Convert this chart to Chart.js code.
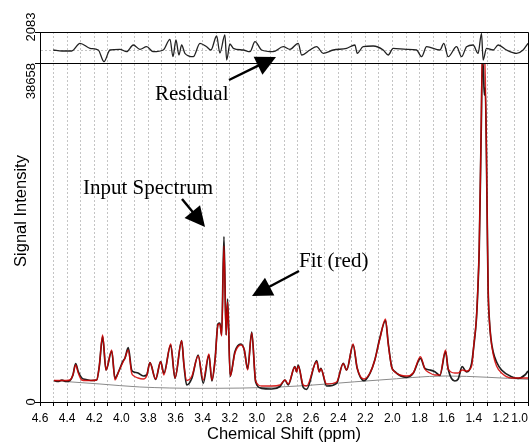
<!DOCTYPE html>
<html><head><meta charset="utf-8">
<script src="https://cdn.jsdelivr.net/npm/chart.js@4"></script>
<style>html,body{margin:0;padding:0;background:#fff}canvas{display:block}</style>
</head><body>
<canvas id="c" width="532" height="443"></canvas>
<script>
// ---- data ----
const ppm = [
4.497,4.467,4.438,4.408,4.379,4.357,4.337,4.318,4.292,4.261,
4.224,4.182,4.163,4.138,4.113,4.071,4.047,4.021,3.990,3.973,
3.949,3.924,3.907,3.877,3.838,3.813,3.789,3.747,3.710,3.686,
3.636,3.604,3.555,3.538,3.518,3.479,3.433,3.396,3.354,3.332,
3.309,3.287,3.273,3.260,3.243,3.227,3.216,3.197,3.162,3.118,
3.093,3.068,3.038,3.009,2.965,2.891,2.830,2.793,2.769,2.720,
2.707,2.695,2.658,2.633,2.559,2.540,2.528,2.486,2.412,2.363,
2.338,2.290,2.260,2.211,2.166,2.130,2.093,2.051,2.031,2.006,
1.982,1.896,1.847,1.793,1.761,1.724,1.687,1.650,1.608,1.589,
1.540,1.515,1.486,1.453,1.416,1.399,1.381,1.370,1.360,1.351,
1.344,1.337,1.329,1.322,1.315,1.307,1.300,1.294,1.285,1.274,
1.257,1.232,1.195,1.121,1.073,1.023,1.000];
const spectrum = [
2452,2338,2509,2338,2452,3079,4391,3478,2737,2566,
2452,2509,4026,7447,3649,5816,2703,3421,4596,5018,
6192,3649,3421,3307,2965,3079,4482,2589,4596,3273,
6500,2703,6991,4219,1939,2737,5360,2133,5360,2395,
4790,8895,9009,7641,18874,7641,11746,2908,5736,6614,
5930,3763,7983,2281,1562,1483,1768,2509,1939,4026,
3455,4219,1676,1448,4710,3455,3843,1825,2133,4413,
3649,6500,3843,2429,3273,4790,7299,9294,6694,4026,
3455,2817,3273,4983,3843,3649,3455,3022,5736,3763,
2395,2623,4026,3421,4413,6500,9351,12772,17334,25317,
32159,39002,37861,35010,35809,28738,19615,12772,9351,7299,
5702,4562,3649,2885,2703,3079,3535];
const fit = [
2452,2452,2452,2452,2509,3079,4219,3307,2509,2452,
2452,2509,4026,7641,3649,5930,2509,3421,4482,5018,
5930,3307,2965,2737,2623,2965,4482,2623,4596,3079,
6614,2737,6991,4219,2452,2965,5245,2509,5474,2509,
4676,8781,8895,7527,17790,7641,11404,2965,5588,6500,
5930,3649,7869,2395,1825,1825,1939,2509,2053,3991,
3421,4105,1939,1825,4596,3421,3763,2053,2281,4376,
3649,6614,3843,2623,3307,4790,7185,9465,6614,3991,
3421,2965,3307,5166,3763,3307,3079,3079,5930,3763,
3307,3307,3649,3535,4105,6614,9465,13000,17562,25659,
33000,40000,41000,40000,37000,29000,19957,12886,9351,7185,
5474,4105,3307,2737,2737,2737,2737];
const baselinePpm = [4.497,4.158,3.863,3.420,2.830,2.093,1.606,1.000];
const baseline    = [2429,2053,1711,1562,1711,2509,2965,2589];
const residualPpm = [
4.502,4.438,4.366,4.305,4.231,4.170,4.128,4.084,4.010,3.961,
3.912,3.863,3.813,3.764,3.691,3.641,3.619,3.597,3.575,3.555,
3.531,3.469,3.420,3.371,3.339,3.297,3.273,3.236,3.223,3.199,
3.174,3.101,3.051,3.014,2.965,2.880,2.806,2.756,2.695,2.670,
2.609,2.559,2.511,2.437,2.338,2.277,2.260,2.216,2.142,2.068,
2.031,1.995,1.896,1.822,1.785,1.748,1.650,1.621,1.589,1.527,
1.490,1.453,1.405,1.368,1.343,1.331,1.306,1.257,1.220,1.158,
1.085,1.036,1.000];
const residual = [
0,-116,-116,775,197,0,-1354,0,81,-197,
579,81,382,-197,0,1238,-775,1157,-579,579,
-382,-775,775,382,0,1620,-347,1736,-1157,694,
197,0,-197,960,0,-197,382,81,775,-579,
0,382,-382,0,197,579,-382,382,463,0,
-579,197,81,0,-775,382,0,775,-775,382,
-775,382,579,-382,1932,-1157,197,0,579,0,
-382,0,775];
const xTickLabels = [4.6,4.4,4.2,4.0,3.8,3.6,3.4,3.2,3.0,2.8,2.6,2.4,2.2,2.0,1.8,1.6,1.4,1.2,1.0];
const mainTicks = [0, 38658];
const residualTicks = [0, 2083];
const xRange = [1.0, 4.6];
const residualRange = [-1504, 2083];

const pts = (xs, ys) => xs.map((v, i) => ({x: v, y: ys[i]}));

const panelClip = {
  id: 'panelClip',
  beforeDatasetDraw(chart, args) {
    const s = chart.scales[args.meta.yAxisID], a = chart.chartArea, ctx = chart.ctx;
    ctx.save(); ctx.beginPath();
    ctx.rect(a.left, s.top, a.right - a.left, s.bottom - s.top); ctx.clip();
  },
  afterDatasetDraw(chart) { chart.ctx.restore(); }
};

function arrow(ctx, x0, y0, x1, y1) {
  const dx = x1 - x0, dy = y1 - y0, L = Math.hypot(dx, dy), ux = dx / L, uy = dy / L;
  const hl = 20, hw = 10;
  const bx = x1 - ux * hl, by = y1 - uy * hl;
  ctx.beginPath(); ctx.moveTo(x0, y0); ctx.lineTo(bx + ux * 2, by + uy * 2); ctx.stroke();
  ctx.beginPath(); ctx.moveTo(x1, y1);
  ctx.lineTo(bx - uy * hw, by + ux * hw); ctx.lineTo(bx + uy * hw, by - ux * hw);
  ctx.closePath(); ctx.fill();
}

const decor = {
  id: 'decor',
  afterDraw(chart) {
    const ctx = chart.ctx, a = chart.chartArea, xs = chart.scales.x, ys = chart.scales.y, y2 = chart.scales.y2;
    const r = v => Math.round(v) + 0.5;
    ctx.save();
    ctx.strokeStyle = '#000'; ctx.lineWidth = 1;
    ctx.beginPath();
    ctx.rect(r(a.left), r(a.top), Math.round(a.right) - Math.round(a.left), Math.round(a.bottom) - Math.round(a.top));
    ctx.moveTo(r(a.left), r(ys.top)); ctx.lineTo(r(a.right), r(ys.top));
    ctx.stroke();
    // x tick labels
    ctx.fillStyle = '#000';
    ctx.font = '12px "Liberation Sans", Arial, sans-serif';
    ctx.textBaseline = 'alphabetic';
    xTickLabels.forEach(v => {
      const px = xs.getPixelForValue(v);
      const t = v.toFixed(1);
      const w = ctx.measureText(t).width;
      let cx = px;
      if (cx + w / 2 > chart.width - 4) cx = chart.width - 4 - w / 2;
      ctx.textAlign = 'center';
      ctx.fillText(t, cx, 422);
    });
    // y tick labels (rotated)
    const rot = (t, x, y, align) => {
      ctx.save(); ctx.translate(x, y); ctx.rotate(-Math.PI / 2);
      ctx.textAlign = align; ctx.fillText(t, 0, 0); ctx.restore();
    };
    ctx.font = '13px "Liberation Sans", Arial, sans-serif';
    rot(String(mainTicks[0]), 35, ys.getPixelForValue(mainTicks[0]), 'center');
    rot(String(mainTicks[1]), 35, ys.getPixelForValue(mainTicks[1]), 'right');
    rot(String(residualTicks[1]), 35, y2.getPixelForValue(residualTicks[1]) - 5, 'center');
    // axis titles
    ctx.font = '16.5px "Liberation Sans", Arial, sans-serif';
    rot('Signal Intensity', 26, 211, 'center');
    ctx.textAlign = 'center';
    ctx.fillText('Chemical Shift (ppm)', 284, 439);
    // annotations
    ctx.font = '21px "Liberation Serif", "Times New Roman", serif';
    ctx.textAlign = 'left';
    ctx.fillText('Residual', 155, 100);
    ctx.fillText('Input Spectrum', 83, 194);
    ctx.fillText('Fit (red)', 299, 267);
    ctx.lineWidth = 2.4; ctx.fillStyle = '#000'; ctx.strokeStyle = '#000';
    arrow(ctx, 229, 80, 276, 57);
    arrow(ctx, 182, 199, 205, 227);
    arrow(ctx, 299, 271, 252, 296);
    ctx.restore();
  }
};

// Chart.js paints the first dataset last (on top): fit, spectrum, baseline, residual
new Chart(document.getElementById('c'), {
  type: 'line',
  data: {
    datasets: [
      {label: 'Fit', data: pts(ppm, fit), yAxisID: 'y', borderColor: 'rgba(212,0,0,0.85)', borderWidth: 1.4, pointRadius: 0, cubicInterpolationMode: 'monotone'},
      {label: 'Input Spectrum', data: pts(ppm, spectrum), yAxisID: 'y', borderColor: '#1e1e1e', borderWidth: 1.7, pointRadius: 0, cubicInterpolationMode: 'monotone'},
      {label: 'Baseline', data: pts(baselinePpm, baseline), yAxisID: 'y', borderColor: '#8a8a8a', borderWidth: 1, pointRadius: 0, cubicInterpolationMode: 'monotone'},
      {label: 'Residual', data: pts(residualPpm, residual), yAxisID: 'y2', borderColor: '#222', borderWidth: 1.3, pointRadius: 0, cubicInterpolationMode: 'monotone'}
    ]
  },
  options: {
    responsive: false, animation: false, devicePixelRatio: 1,
    layout: {padding: {left: 35, right: 4, top: 32, bottom: 37}},
    plugins: {legend: {display: false}, tooltip: {enabled: false}},
    scales: {
      x: {
        type: 'linear', reverse: true, min: xRange[0], max: xRange[1],
        ticks: {display: false, stepSize: 0.1},
        grid: {color: '#c4c4c4', lineWidth: 1, drawTicks: true, tickLength: 4, tickColor: '#000', tickBorderDash: []},
        border: {display: true, color: '#000', dash: [2, 2]}
      },
      y: {
        type: 'linear', position: 'left', stack: 'panels', stackWeight: 339,
        min: mainTicks[0], max: mainTicks[1],
        afterBuildTicks: s => { s.ticks = mainTicks.map(v => ({value: v})); },
        ticks: {display: false},
        grid: {drawOnChartArea: false, drawTicks: true, tickLength: 5, tickColor: '#000'},
        border: {display: true, color: '#000'}
      },
      y2: {
        type: 'linear', position: 'left', stack: 'panels', stackWeight: 31,
        min: residualRange[0], max: residualRange[1],
        afterBuildTicks: s => { s.ticks = residualTicks.map(v => ({value: v})); },
        ticks: {display: false},
        grid: {
          drawOnChartArea: true, drawTicks: true, tickLength: 5,
          color: c => (c.tick && c.tick.value === 0) ? '#c4c4c4' : 'rgba(0,0,0,0)',
          tickColor: c => (c.tick && c.tick.value === 0) ? 'rgba(0,0,0,0)' : '#000'
        },
        border: {display: true, color: '#000', dash: [2, 2]}
      }
    }
  },
  plugins: [panelClip, decor]
});
</script>
</body></html>
